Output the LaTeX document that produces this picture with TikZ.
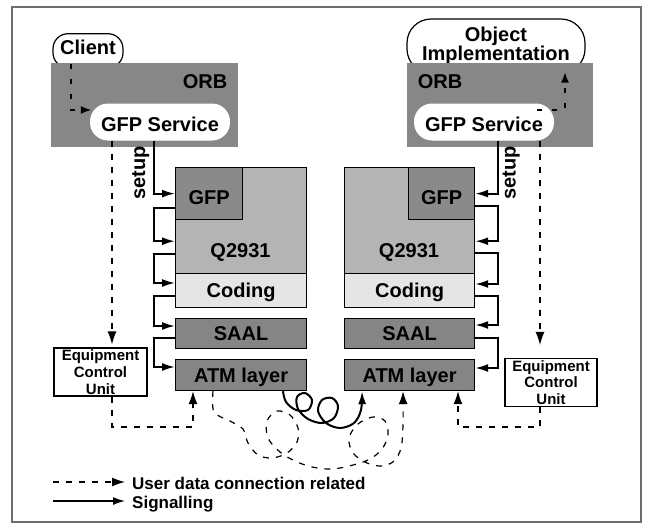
\documentclass[tikz,border=0pt]{standalone}
\usepackage{fontspec}
\setmainfont{Liberation Sans}
\usetikzlibrary{arrows.meta,calc}
\definecolor{orbgray}{RGB}{135,135,135}
\definecolor{qgray}{RGB}{180,180,180}
\definecolor{gfpgray}{RGB}{138,138,138}
\definecolor{codgray}{RGB}{229,229,229}
\definecolor{laygray}{RGB}{133,133,133}
\definecolor{framegray}{RGB}{110,110,110}
\begin{document}
\begin{tikzpicture}[x=1pt,y=-1pt,
  bigfont/.style={font=\fontsize{20}{18}\selectfont\bfseries},
  lbl/.style={bigfont, inner sep=0pt, text height=14pt, text depth=0pt},
  layerbox/.style={draw=black, line width=1.2pt, inner sep=0pt, anchor=north west, bigfont, text height=14pt, text depth=0pt},
  orbbox/.style={fill=orbgray, inner sep=0pt, anchor=north west},
  pill/.style={fill=white, inner sep=0pt, bigfont},
  ecubox/.style={draw=black, fill=white, line width=1.2pt, inner sep=0pt, align=center, font=\fontsize{15}{16.8}\selectfont\bfseries},
  sig/.style={line width=2pt, -{Latex[length=13pt,width=8pt]}},
  data/.style={line width=1.2pt, dash pattern=on 6pt off 7pt, -{Latex[length=13pt,width=9pt]}},
  dots/.style={line width=2.5pt, dash pattern=on 5pt off 10pt, -{Latex[length=11pt,width=8pt]}},
  legendtext/.style={font=\fontsize{17}{17}\selectfont\bfseries, inner sep=0pt, anchor=base west}
]
\fill[white] (0,0) rectangle (645,531);
\useasboundingbox (0,0) rectangle (645,531);
\draw[framegray, line width=1.3pt] (12,7) rectangle (641,522);

% client / object implementation (behind ORB)
\node[draw=black, fill=white, line width=1.2pt, rounded corners=15pt, inner sep=0pt,
      minimum width=70pt, minimum height=34pt, bigfont, text height=14pt, text depth=6pt]
      (cliL) at (88,50.7) {Client};
\node[draw=black, fill=white, line width=1.2pt, rounded corners=24pt, inner sep=0pt,
      minimum width=178pt, minimum height=54pt, bigfont, align=center]
      (objR) at (496,46) {Object\\Implementation};

% ORB boxes
\node[orbbox, minimum width=187pt, minimum height=84pt] (orbL) at (51,63) {};
\node[orbbox, minimum width=186pt, minimum height=84pt] (orbR) at (407,63) {};
\node[lbl] (orbtL) at (205,81) {ORB};
\node[lbl] (orbtR) at (440,81) {ORB};

% GFP service pills
\node[pill, rounded corners=18pt, minimum width=140pt, minimum height=37pt, text height=18pt, text depth=0pt]
      (gsL) at (160,122) {GFP Service};
\node[pill, rounded corners=18pt, minimum width=140pt, minimum height=37pt, text height=18pt, text depth=0pt]
      (gsR) at (484,122) {GFP Service};

% left stack
\node[layerbox, fill=qgray, minimum width=131pt, minimum height=106pt] (qL) at (175,167) {};
\node[layerbox, fill=gfpgray, minimum width=67pt, minimum height=52pt, text height=22pt] (gfpL) at (175,167) {GFP};
\node[lbl] (qtL) at (240.5,250) {Q2931};
\node[layerbox, fill=codgray, minimum width=131pt, minimum height=34pt] (codL) at (175,273) {Coding};
\node[layerbox, fill=laygray, minimum width=131pt, minimum height=30pt] (saalL) at (175,318) {SAAL};
\node[layerbox, fill=laygray, minimum width=131pt, minimum height=31pt] (atmL) at (175,359) {ATM layer};

% right stack
\node[layerbox, fill=qgray, minimum width=130pt, minimum height=106pt] (qR) at (344,167) {};
\node[layerbox, fill=gfpgray, minimum width=66pt, minimum height=52pt, text height=22pt] (gfpR) at (408,167) {GFP};
\node[lbl] (qtR) at (409,250) {Q2931};
\node[layerbox, fill=codgray, minimum width=130pt, minimum height=34pt] (codR) at (344,273) {Coding};
\node[layerbox, fill=laygray, minimum width=130pt, minimum height=30pt] (saalR) at (344,318) {SAAL};
\node[layerbox, fill=laygray, minimum width=130pt, minimum height=31pt] (atmR) at (344,359) {ATM layer};

% equipment control units
\node[ecubox, minimum width=93pt, minimum height=48pt] (ecuL) at (100.5,372) {Equipment\\Control\\Unit};
\node[ecubox, minimum width=92pt, minimum height=48pt] (ecuR) at (551,382.5) {Equipment\\Control\\Unit};

% dotted ORB paths
\draw[dots] ([xshift=-17pt,yshift=4pt]cliL.south) |- ([xshift=2pt,yshift=12pt]gsL.west);
\draw[dots] ([xshift=-17pt,yshift=12pt]gsR.east) -| ([xshift=69pt,yshift=2pt]objR.south);

% setup arrows
\draw[sig] ([xshift=-6pt]gsL.south) |- (gfpL.west);
\node[lbl, rotate=90] (setupL) at (138,173) {setup};
\draw[sig] ([xshift=14pt]gsR.south) |- (gfpR.east);
\node[lbl, rotate=90] (setupR) at (508.5,173) {setup};

% left stack signalling
\draw[sig] ([yshift=12pt]gfpL.south west) -- ++(-21,0) |- ([yshift=33pt]qL.south west);
\draw[sig] ([yshift=20pt]qL.south west) -- ++(-21,0) |- ([yshift=-10pt]codL.north west);
\draw[sig] ([yshift=12pt]codL.south west) -- ++(-21,0) |- ([yshift=-8pt]saalL.north west);
\draw[sig] ([yshift=11pt]saalL.south west) -- ++(-21,0) |- ([yshift=-8pt]atmL.north west);

% right stack signalling
\draw[sig] ([yshift=14pt]gfpR.south east) -- ++(23,0) |- ([yshift=33pt]qR.south east);
\draw[sig] ([yshift=21pt]qR.south east) -- ++(23,0) |- ([yshift=-11pt]codR.north east);
\draw[sig] ([yshift=12pt]codR.south east) -- ++(23,0) |- ([yshift=-7pt]saalR.north east);
\draw[sig] ([yshift=11pt]saalR.south east) -- ++(23,0) |- ([yshift=-9pt]atmR.north east);

% user data paths via equipment control units
\coordinate (vL) at (112,0);
\coordinate (vR) at (540,0);
\coordinate (uL) at (193,0);
\coordinate (uR) at (458,0);
\coordinate (ybot) at (0,427);
\draw[data, shorten >=3pt] (gsL.south -| vL) -- (ecuL.north -| vL);
\draw[data] (ecuL.south -| vL) |- (ybot -| uL) -- (atmL.south -| uL);
\draw[data, shorten >=13pt] (gsR.south -| vR) -- (ecuR.north -| vR);
\draw[data] (ecuR.south -| vR) |- (ybot -| uR) -- (atmR.south -| uR);

% looping user data connection
\coordinate (dcs) at ([xshift=38pt]atmL.south west);
\coordinate (dce) at ([xshift=59pt]atmR.south west);
\draw[data] plot[smooth, tension=0.55] coordinates {
  (dcs) (214,412) (230,421) (243,429) (248,443) (258,455) (272,458) (287,453)
  (297,442) (298,428) (290,415) (277,411) (267,421) (268,438) (280,452)
  (295,461) (312,467) (332,469) (353,465) (370,459) (382,449) (388,435)
  (385,421) (373,417) (358,424) (349,438) (353,453) (367,463) (382,466)
  (394,461) (401,448) (403,425) (dce)};

% looping signalling connection
\coordinate (scs) at ([xshift=108pt]atmL.south west);
\coordinate (sce) at ([xshift=18pt]atmR.south west);
\draw[sig] plot[smooth, tension=0.55] coordinates {
  (scs) (286,402) (296,410) (308,410) (312,400) (305,393) (297,397)
  (298,409) (308,419) (322,423) (334,418) (338,406) (332,398) (322,400)
  (318,411) (326,423) (340,428) (354,423) (361,410) (sce)};

% legend
\coordinate (lgAa) at (53,482);
\coordinate (lgAb) at (125,482);
\coordinate (lgBa) at (53,501);
\coordinate (lgBb) at (125,501);
\draw[data] (lgAa) -- (lgAb);
\draw[line width=1.2pt, -{Latex[length=12pt,width=8pt]}] (lgBa) -- (lgBb);
\node[legendtext] (lgtA) at (132,489) {User data connection related};
\node[legendtext] (lgtB) at (132,508) {Signalling};
\end{tikzpicture}
\end{document}
